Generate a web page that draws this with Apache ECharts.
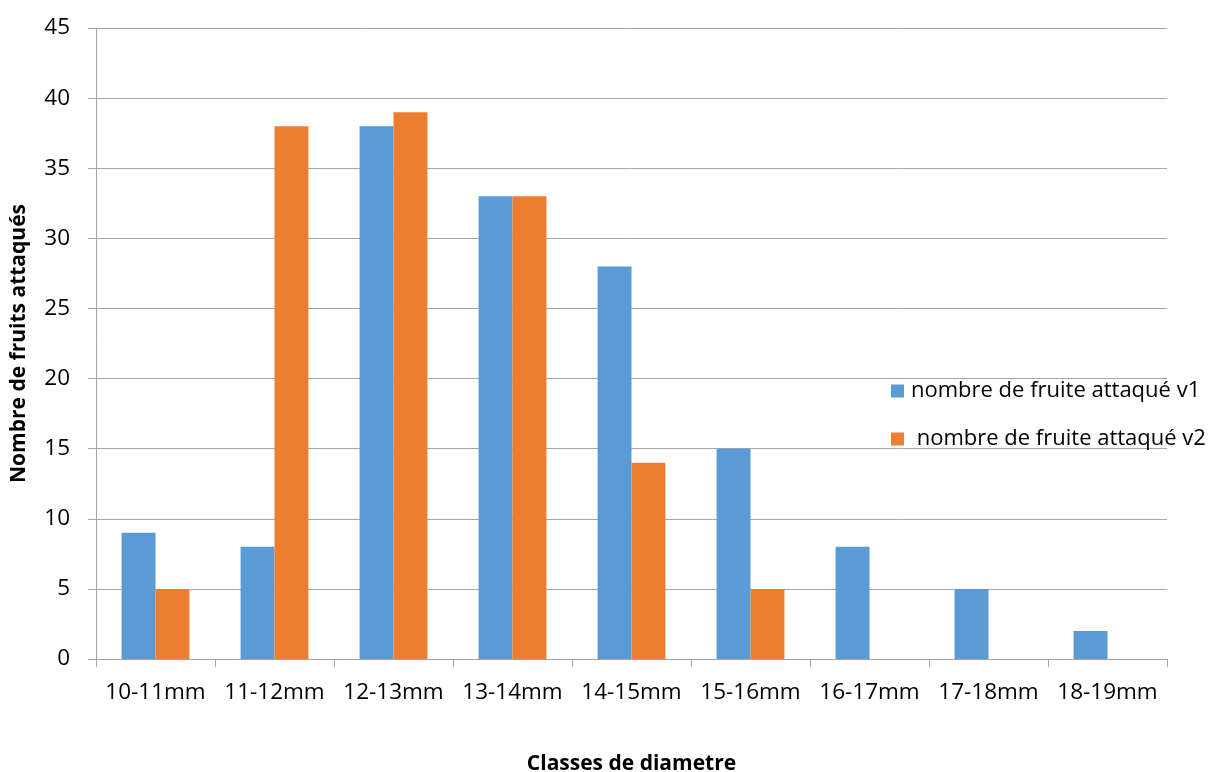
<!DOCTYPE html>
<html><head><meta charset="utf-8">
<script src="https://cdn.jsdelivr.net/npm/echarts@6/dist/echarts.min.js"></script>
<style>html,body{margin:0;padding:0;background:#fff}#c{width:1227px;height:772px}</style>
</head><body><div id="c"></div>
<script>
const categories = ['10-11mm','11-12mm','12-13mm','13-14mm','14-15mm','15-16mm','16-17mm','17-18mm','18-19mm'];
const seriesV1 = [9, 8, 38, 33, 28, 15, 8, 5, 2];
const seriesV2 = [5, 38, 39, 33, 14, 5, 0, 0, 0];
const nameV1 = 'nombre de fruite attaqué v1';
const nameV2 = ' nombre de fruite attaqué v2';
const yTitle = 'Nombre de fruits attaqués';
const xTitle = 'Classes de diametre';

const chart = echarts.init(document.getElementById('c'), null, {renderer:'canvas'});
const font = 'Open Sans';
chart.setOption({
  animation: false,
  textStyle: {fontFamily: font},
  grid: {left: 96, right: 60, top: 28, bottom: 113, containLabel: false, outerBoundsMode: 'none'},
  legend: {
    orient: 'vertical', left: 891, top: 379, padding: 0, itemWidth: 13, itemHeight: 13, itemGap: 24,
    icon: 'rect', textStyle: {fontSize: 22, lineHeight: 24, color: '#000', fontFamily: font, padding: [0, 0, 0, 2]},
    data: [nameV1, nameV2]
  },
  xAxis: {
    type: 'category', data: categories,
    name: xTitle, nameLocation: 'middle', nameGap: 95,
    nameTextStyle: {fontSize: 21, fontWeight: 'bold', color: '#000', fontFamily: font},
    axisLine: {lineStyle: {color: '#a6a6a6', width: 1}},
    axisTick: {show: true, length: 8, alignWithLabel: false, lineStyle: {color: '#a6a6a6'}},
    axisLabel: {fontSize: 22.5, color: '#000', margin: 22, fontFamily: font, interval: 0}
  },
  yAxis: {
    type: 'value', min: 0, max: 45, interval: 5,
    name: yTitle, nameLocation: 'middle', nameGap: 66, nameRotate: 90,
    nameTextStyle: {fontSize: 21, fontWeight: 'bold', color: '#000', fontFamily: font},
    axisLine: {show: true, lineStyle: {color: '#a6a6a6', width: 1}},
    axisTick: {show: true, length: 8, inside: false, lineStyle: {color: '#a6a6a6'}},
    axisLabel: {fontSize: 22.5, color: '#000', margin: 26, fontFamily: font},
    splitLine: {show: true, lineStyle: {color: '#a6a6a6', width: 1}}
  },
  series: [
    {name: nameV1, type: 'bar', data: seriesV1, barGap: '0%', barCategoryGap: '43%',
     itemStyle: {color: '#5b9bd5'}},
    {name: nameV2, type: 'bar', data: seriesV2, barGap: '0%', barCategoryGap: '43%',
     itemStyle: {color: '#ed7d31'}}
  ]
});
</script></body></html>
